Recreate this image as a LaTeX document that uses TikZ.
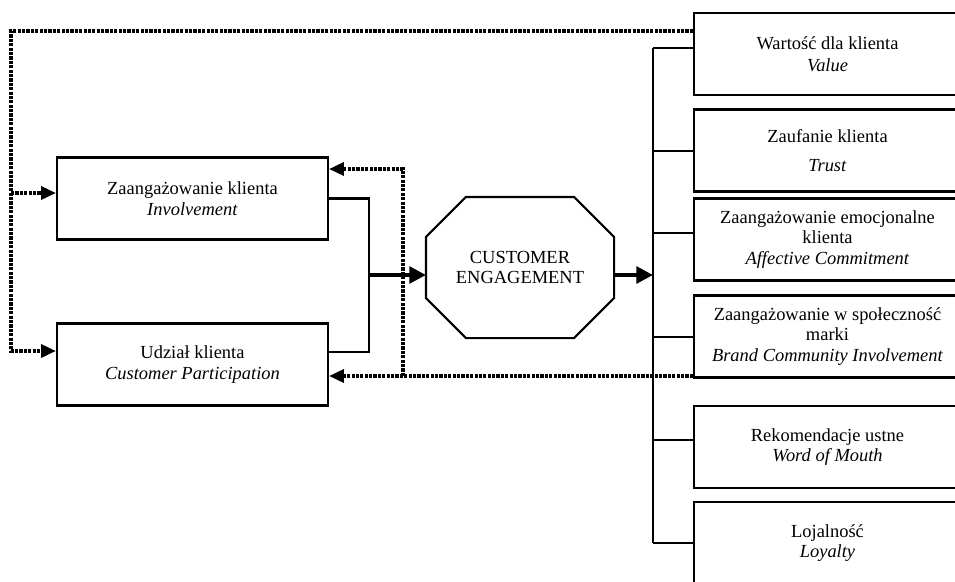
\documentclass[tikz,border=0pt]{standalone}
\usepackage{fontspec}
\setmainfont{Liberation Serif}
\usepackage{tikz}
\usetikzlibrary{arrows.meta}
\tikzset{
  bx/.style={draw,line width=1.2pt,minimum height=1.64cm,align=center,inner sep=0pt,font=\fontsize{10.5pt}{11.6pt}\selectfont},
  lbx/.style={bx,minimum width=5.42cm},
  rbx/.style={bx,minimum width=5.34cm},
  ln/.style={line width=1.2pt},
  thk/.style={line width=2.2pt,-{Triangle[length=9.5pt,width=9.5pt]}},
  dot/.style={line width=2pt,dash pattern=on 1.8pt off 0.7pt,-{Triangle[length=8.5pt,width=7.4pt]}}
}

\begin{document}
\begin{tikzpicture}
\useasboundingbox (0,0) rectangle (19.1,-11.62);
\clip (0,0) rectangle (19.1,-11.62);
\node[lbx] (inv) at (3.85,-3.97) {Zaangażowanie klienta\\\textit{Involvement}};
\node[lbx] (part) at (3.85,-7.29) {Udział klienta\\\textit{Customer Participation}};
\node[bx,draw=none,minimum width=3.72cm,minimum height=2.78cm] (eng) at (10.40,-5.35) {CUSTOMER\\ENGAGEMENT};
\draw[ln] ([xshift=0.8cm]eng.north west) -- ([xshift=-0.8cm]eng.north east) -- ([yshift=-0.8cm]eng.north east)
  -- ([yshift=0.8cm]eng.south east) -- ([xshift=-0.8cm]eng.south east) -- ([xshift=0.8cm]eng.south west)
  -- ([yshift=0.8cm]eng.south west) -- ([yshift=-0.8cm]eng.north west) -- cycle;
\node[rbx] (val) at (16.55,-1.08) {Wartość dla klienta\\[1pt]\textit{Value}};
\node[rbx] (tru) at (16.55,-3.01) {Zaufanie klienta\\[5pt]\textit{Trust}};
\node[rbx] (aff) at (16.55,-4.79) {Zaangażowanie emocjonalne\\klienta\\\textit{Affective Commitment}};
\node[rbx] (bci) at (16.55,-6.73) {Zaangażowanie w społeczność\\marki\\\textit{Brand Community Involvement}};
\node[rbx] (wom) at (16.55,-8.94) {Rekomendacje ustne\\\textit{Word of Mouth}};
\node[rbx] (loy) at (16.55,-10.86) {Lojalność\\\textit{Loyalty}};
\coordinate (jn) at (7.38,-5.5); \coordinate (bus) at (13.06,-5.5);
\draw[ln] (inv.east) -| (jn) |- ([yshift=0.25cm]part.east);
\draw[thk] (jn) -- ([yshift=-0.15cm]eng.west);
\draw[thk] ([yshift=-0.15cm]eng.east) -- (bus);
\draw[ln] ([yshift=0.12cm]val.west -| bus) -- (loy.west -| bus);
\foreach \n/\s in {val/0.12,tru/-0.01,aff/0.13,bci/-0.01,wom/0.14,loy/0}
  \draw[ln] ([yshift=\s cm]\n.west) -- ([yshift=\s cm]\n.west -| bus);
\coordinate (outer) at (0.22,-3.86); \coordinate (inner) at (8.06,-7.52);
\draw[dot] ([yshift=0.46cm]val.west) -| (outer) |- ([yshift=0.27cm]part.west);
\draw[dot] (outer) -- ([yshift=0.11cm]inv.west);
\draw[dot] ([yshift=-0.79cm]bci.west) -- ([yshift=-0.23cm]part.east);
\draw[dot] (inner) |- ([yshift=0.59cm]inv.east);
\end{tikzpicture}
\end{document}
